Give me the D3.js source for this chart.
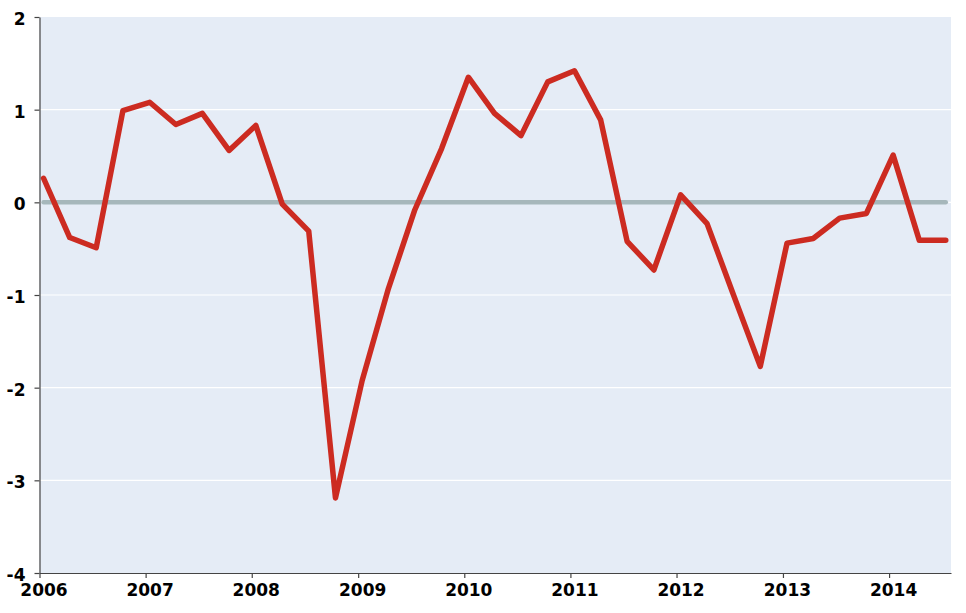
<!DOCTYPE html>
<html>
<head>
<meta charset="utf-8">
<script src="https://cdn.jsdelivr.net/npm/d3@7/dist/d3.min.js"></script>
<style>
  body { margin: 0; background: #fff; }
  svg { display: block; }
  .tick text { font-family: "DejaVu Sans", sans-serif; font-weight: bold; font-size: 17px; fill: #000; }
</style>
</head>
<body>
<svg id="chart" width="966" height="613"></svg>
<script>
// quarterly series
const quarters = [
  "2006Q1","2006Q2","2006Q3","2006Q4",
  "2007Q1","2007Q2","2007Q3","2007Q4",
  "2008Q1","2008Q2","2008Q3","2008Q4",
  "2009Q1","2009Q2","2009Q3","2009Q4",
  "2010Q1","2010Q2","2010Q3","2010Q4",
  "2011Q1","2011Q2","2011Q3","2011Q4",
  "2012Q1","2012Q2","2012Q3","2012Q4",
  "2013Q1","2013Q2","2013Q3","2013Q4",
  "2014Q1","2014Q2","2014Q3"
];
const values = [
  0.26, -0.38, -0.49, 0.99,
  1.08, 0.84, 0.96, 0.56,
  0.83, -0.02, -0.31, -3.19,
  -1.92, -0.93, -0.08, 0.58,
  1.35, 0.96, 0.72, 1.30,
  1.42, 0.89, -0.42, -0.73,
  0.08, -0.23, -1.00, -1.77,
  -0.44, -0.39, -0.17, -0.12,
  0.51, -0.41, -0.41
];
const yTicks = [2, 1, 0, -1, -2, -3, -4];
const xTickYears = [2006, 2007, 2008, 2009, 2010, 2011, 2012, 2013, 2014];

const margin = { top: 17, right: 15, bottom: 40, left: 39.5 };
const width = 966, height = 613;

// quarter -> date in the middle of the quarter's first month
const toDate = q => new Date(Date.UTC(+q.slice(0, 4), (+q.slice(5) - 1) * 3, 15));
const data = quarters.map((q, i) => ({ date: toDate(q), v: values[i] }));

const x = d3.scaleUtc()
  .domain([new Date(Date.UTC(2006, 0, 1)), new Date(Date.UTC(2014, 7, 2))])
  .range([margin.left, width - margin.right]);
const y = d3.scaleLinear()
  .domain([-4, 2])
  .range([height - margin.bottom, margin.top]);

const svg = d3.select("#chart");

// plot background
svg.append("rect")
  .attr("x", x.range()[0])
  .attr("y", y(2))
  .attr("width", x.range()[1] - x.range()[0])
  .attr("height", y(-4) - y(2))
  .attr("fill", "#e5ecf6");

// white gridlines
svg.append("g")
  .selectAll("line")
  .data(yTicks.filter(d => d !== 2 && d !== -4))
  .join("line")
  .attr("x1", x.range()[0])
  .attr("x2", x.range()[1])
  .attr("y1", d => y(d))
  .attr("y2", d => y(d))
  .attr("stroke", "#ffffff")
  .attr("stroke-width", 1.2);

// zero reference line, spans the data dates
const line = d3.line().x(d => x(d.date)).y(d => y(d.v));
svg.append("path")
  .datum(data.map(d => ({ date: d.date, v: 0 })))
  .attr("d", line)
  .attr("fill", "none")
  .attr("stroke", "#a6b7bb")
  .attr("stroke-width", 4.5)
  .attr("stroke-linecap", "round");

// the series
svg.append("path")
  .datum(data)
  .attr("d", line)
  .attr("fill", "none")
  .attr("stroke", "#cc2b21")
  .attr("stroke-width", 5.5)
  .attr("stroke-linejoin", "round")
  .attr("stroke-linecap", "round");

// axes
const axisY = svg.append("g")
  .attr("transform", `translate(${margin.left},0)`)
  .call(d3.axisLeft(y).tickValues(yTicks).tickSize(5).tickSizeOuter(0).tickPadding(9)
    .tickFormat(d => String(d)));
const axisX = svg.append("g")
  .attr("transform", `translate(0,${height - margin.bottom})`)
  .call(d3.axisBottom(x)
    .tickValues(xTickYears.map(yr => new Date(Date.UTC(yr, 0, 1))))
    .tickSize(5).tickSizeOuter(0).tickPadding(6)
    .tickFormat(d3.utcFormat("%Y")));

[axisY, axisX].forEach(a => {
  a.select(".domain").attr("stroke", "#444").attr("stroke-width", 1.2);
  a.selectAll(".tick line").attr("stroke", "#444").attr("stroke-width", 1.2);
});
axisY.selectAll(".tick text").attr("dy", "0.45em");
axisX.selectAll(".tick text").attr("dx", "4");
</script>
</body>
</html>
